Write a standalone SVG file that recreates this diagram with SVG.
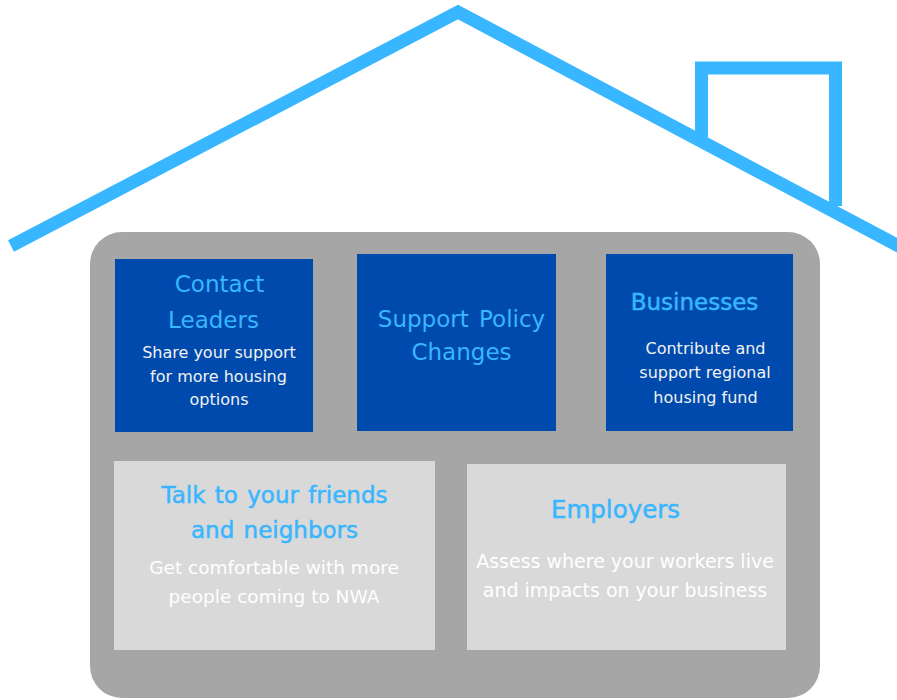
<svg xmlns="http://www.w3.org/2000/svg" width="897" height="700" viewBox="0 0 897 700">
<style>
.roof{fill:none;stroke:#38B6FF;stroke-width:13;stroke-linejoin:miter}
.blue{fill:#004AAD}
.light{fill:#D9D9D9}
.h{font-family:"DejaVu Sans",sans-serif;font-size:23px;fill:#38B6FF;text-anchor:middle}
.hb{stroke:#38B6FF;stroke-width:0.5}
.s{font-family:"DejaVu Sans",sans-serif;font-size:16px;fill:#F2F2F2;text-anchor:middle}
.s2{font-family:"DejaVu Sans",sans-serif;font-size:18.5px;fill:#FFFFFF;text-anchor:middle}
</style>
<g id="house">
<polyline class="roof" points="11,246 458,12 906,250"/>
<polyline class="roof" points="701.5,137 701.5,68 835.5,68 835.5,206" style="stroke-linejoin:miter"/>
<rect x="90" y="232" width="730" height="466" rx="32" ry="32" fill="#A6A6A6"/>
</g>
<g id="contact-leaders">
<rect class="blue" x="115" y="259" width="198" height="173"/>
<text class="h" x="219.5" y="292">Contact</text>
<text class="h" x="213.5" y="328">Leaders</text>
<text class="s" x="219" y="358">Share your support</text>
<text class="s" x="218.5" y="382">for more housing</text>
<text class="s" x="219" y="405">options</text>
</g>
<g id="support-policy">
<rect class="blue" x="357" y="254" width="199" height="177"/>
<text class="h" x="461.5" y="327" word-spacing="3">Support Policy</text>
<text class="h" x="461.5" y="360">Changes</text>
</g>
<g id="businesses">
<rect class="blue" x="606" y="254" width="187" height="177"/>
<text class="h hb" x="694.5" y="310">Businesses</text>
<text class="s" x="705.5" y="354">Contribute and</text>
<text class="s" x="705" y="378">support regional</text>
<text class="s" x="705.5" y="403">housing fund</text>
</g>
<g id="talk">
<rect class="light" x="114" y="461" width="321" height="189"/>
<text class="h hb" x="274.5" y="503" word-spacing="2">Talk to your friends</text>
<text class="h hb" x="274.5" y="538" word-spacing="2">and neighbors</text>
<text class="s2" x="274" y="574">Get comfortable with more</text>
<text class="s2" x="274" y="603">people coming to NWA</text>
</g>
<g id="employers">
<rect class="light" x="467" y="464" width="319" height="186"/>
<text class="h hb" x="615.5" y="518" style="font-size:24.5px">Employers</text>
<text class="s2" x="625" y="568" style="font-size:19px">Assess where your workers live</text>
<text class="s2" x="625" y="597" style="font-size:19px">and impacts on your business</text>
</g>
<g id="connectors"></g>
</svg>
